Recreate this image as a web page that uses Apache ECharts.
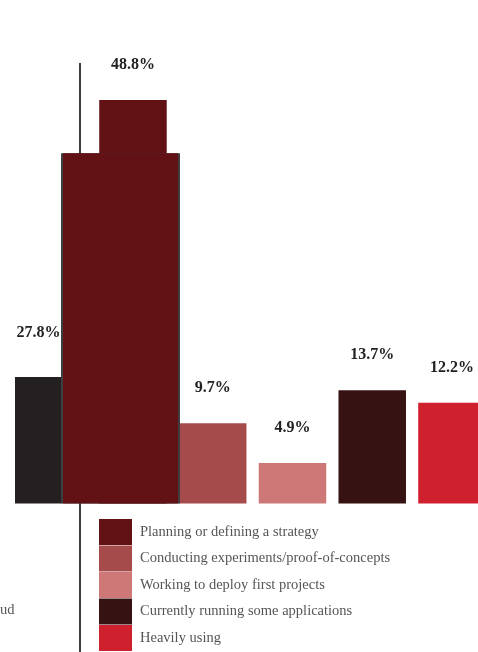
<!DOCTYPE html>
<html>
<head>
<meta charset="utf-8">
<script src="https://cdn.jsdelivr.net/npm/echarts@6/dist/echarts.min.js"></script>
<style>
  html, body { margin: 0; padding: 0; background: #ffffff; }
  #chart { width: 478px; height: 652px; }
</style>
</head>
<body>
<div id="chart"></div>
<script>
// Adoption stages and the share of respondents in each
const stages = [
  'Planning or defining a strategy',
  'Conducting experiments/proof-of-concepts',
  'Working to deploy first projects',
  'Currently running some applications',
  'Heavily using'
];
const stageShares = [48.8, 9.7, 4.9, 13.7, 12.2];
const stageColors = ['#621214', '#a54b4b', '#cd7876', '#361213', '#cf202e'];

// Neighbouring panel, only its right edge is in frame
const sideCategories = ['', ''];
const sideShares = [27.8, 77.0];
const sideColors = ['#242021', '#621214', '#3e3e40'];
const sideLegendTails = ['e', 'ud'];

const serif = 'Liberation Serif, Times New Roman, serif';
const pct = p => Number(p.value).toFixed(1) + '%';
const valueLabel = distance => ({
  show: true,
  position: 'top',
  distance: distance,
  formatter: pct,
  fontFamily: serif,
  fontWeight: 'bold',
  fontSize: 16,
  color: '#222222'
});

const stageSeries = stages.map((name, i) => ({
  type: 'bar',
  name: name,
  stack: 'stage',
  xAxisIndex: 0,
  yAxisIndex: 0,
  barWidth: 67.5,
  clip: false,
  z: 2,
  data: stageShares.map((v, j) => (j === i ? v : '-')),
  itemStyle: { color: stageColors[i] },
  label: valueLabel(27),
  emphasis: { disabled: true }
}));

const sideSeries = [
  {
    type: 'bar',
    name: 'side-first',
    xAxisIndex: 1,
    yAxisIndex: 1,
    barWidth: 47,
    clip: false,
    z: 3,
    data: [sideShares[0], '-'],
    itemStyle: { color: sideColors[0] },
    label: valueLabel(36),
    emphasis: { disabled: true }
  },
  {
    type: 'bar',
    name: 'side-second-edge',
    xAxisIndex: 2,
    yAxisIndex: 1,
    barWidth: 119,
    clip: false,
    z: 3,
    data: ['-', sideShares[1]],
    itemStyle: { color: sideColors[2] },
    emphasis: { disabled: true }
  },
  {
    type: 'bar',
    name: 'side-second',
    xAxisIndex: 3,
    yAxisIndex: 1,
    barWidth: 115,
    clip: false,
    z: 4,
    data: ['-', sideShares[1]],
    itemStyle: { color: sideColors[1] },
    emphasis: { disabled: true }
  }
];

const hiddenCategoryAxis = (gridIndex, data) => ({
  type: 'category', gridIndex: gridIndex, data: data, show: false
});

const chart = echarts.init(document.getElementById('chart'), null, { renderer: 'canvas' });
chart.setOption({
  animation: false,
  backgroundColor: '#ffffff',
  grid: [
    { left: 93.1, width: 398.75, top: 90.1, bottom: 148.5, outerBoundsMode: 'none', containLabel: false },
    { left: -2.5, width: 164, top: 48.5, bottom: 148.5, outerBoundsMode: 'none', containLabel: false }
  ],
  xAxis: [
    hiddenCategoryAxis(0, stages.map((s, i) => String(i))),
    hiddenCategoryAxis(1, sideCategories),
    hiddenCategoryAxis(1, sideCategories),
    hiddenCategoryAxis(1, sideCategories)
  ],
  yAxis: [
    { type: 'value', gridIndex: 0, min: 0, max: 50, show: false },
    { type: 'value', gridIndex: 1, min: 0, max: 100, show: false }
  ],
  legend: {
    data: stages,
    orient: 'vertical',
    left: 99,
    top: 519,
    icon: 'rect',
    itemWidth: 33,
    itemHeight: 26,
    itemGap: 0.5,
    selectedMode: false,
    padding: 0,
    textStyle: {
      fontFamily: serif,
      fontSize: 14.5,
      color: '#555555',
      padding: [0, 0, 0, 3]
    }
  },
  graphic: [
    {
      type: 'line',
      z: 0,
      silent: true,
      shape: { x1: 80, y1: 63, x2: 80, y2: 652 },
      style: { stroke: '#3e3e40', lineWidth: 2 }
    },
    {
      type: 'text',
      x: -6, y: 525,
      silent: true,
      style: { text: sideLegendTails[0], fill: '#555555', font: '14.5px ' + serif }
    },
    {
      type: 'text',
      x: 0, y: 603,
      silent: true,
      style: { text: sideLegendTails[1], fill: '#555555', font: '14.5px ' + serif }
    }
  ],
  series: stageSeries.concat(sideSeries)
});
</script>
</body>
</html>
